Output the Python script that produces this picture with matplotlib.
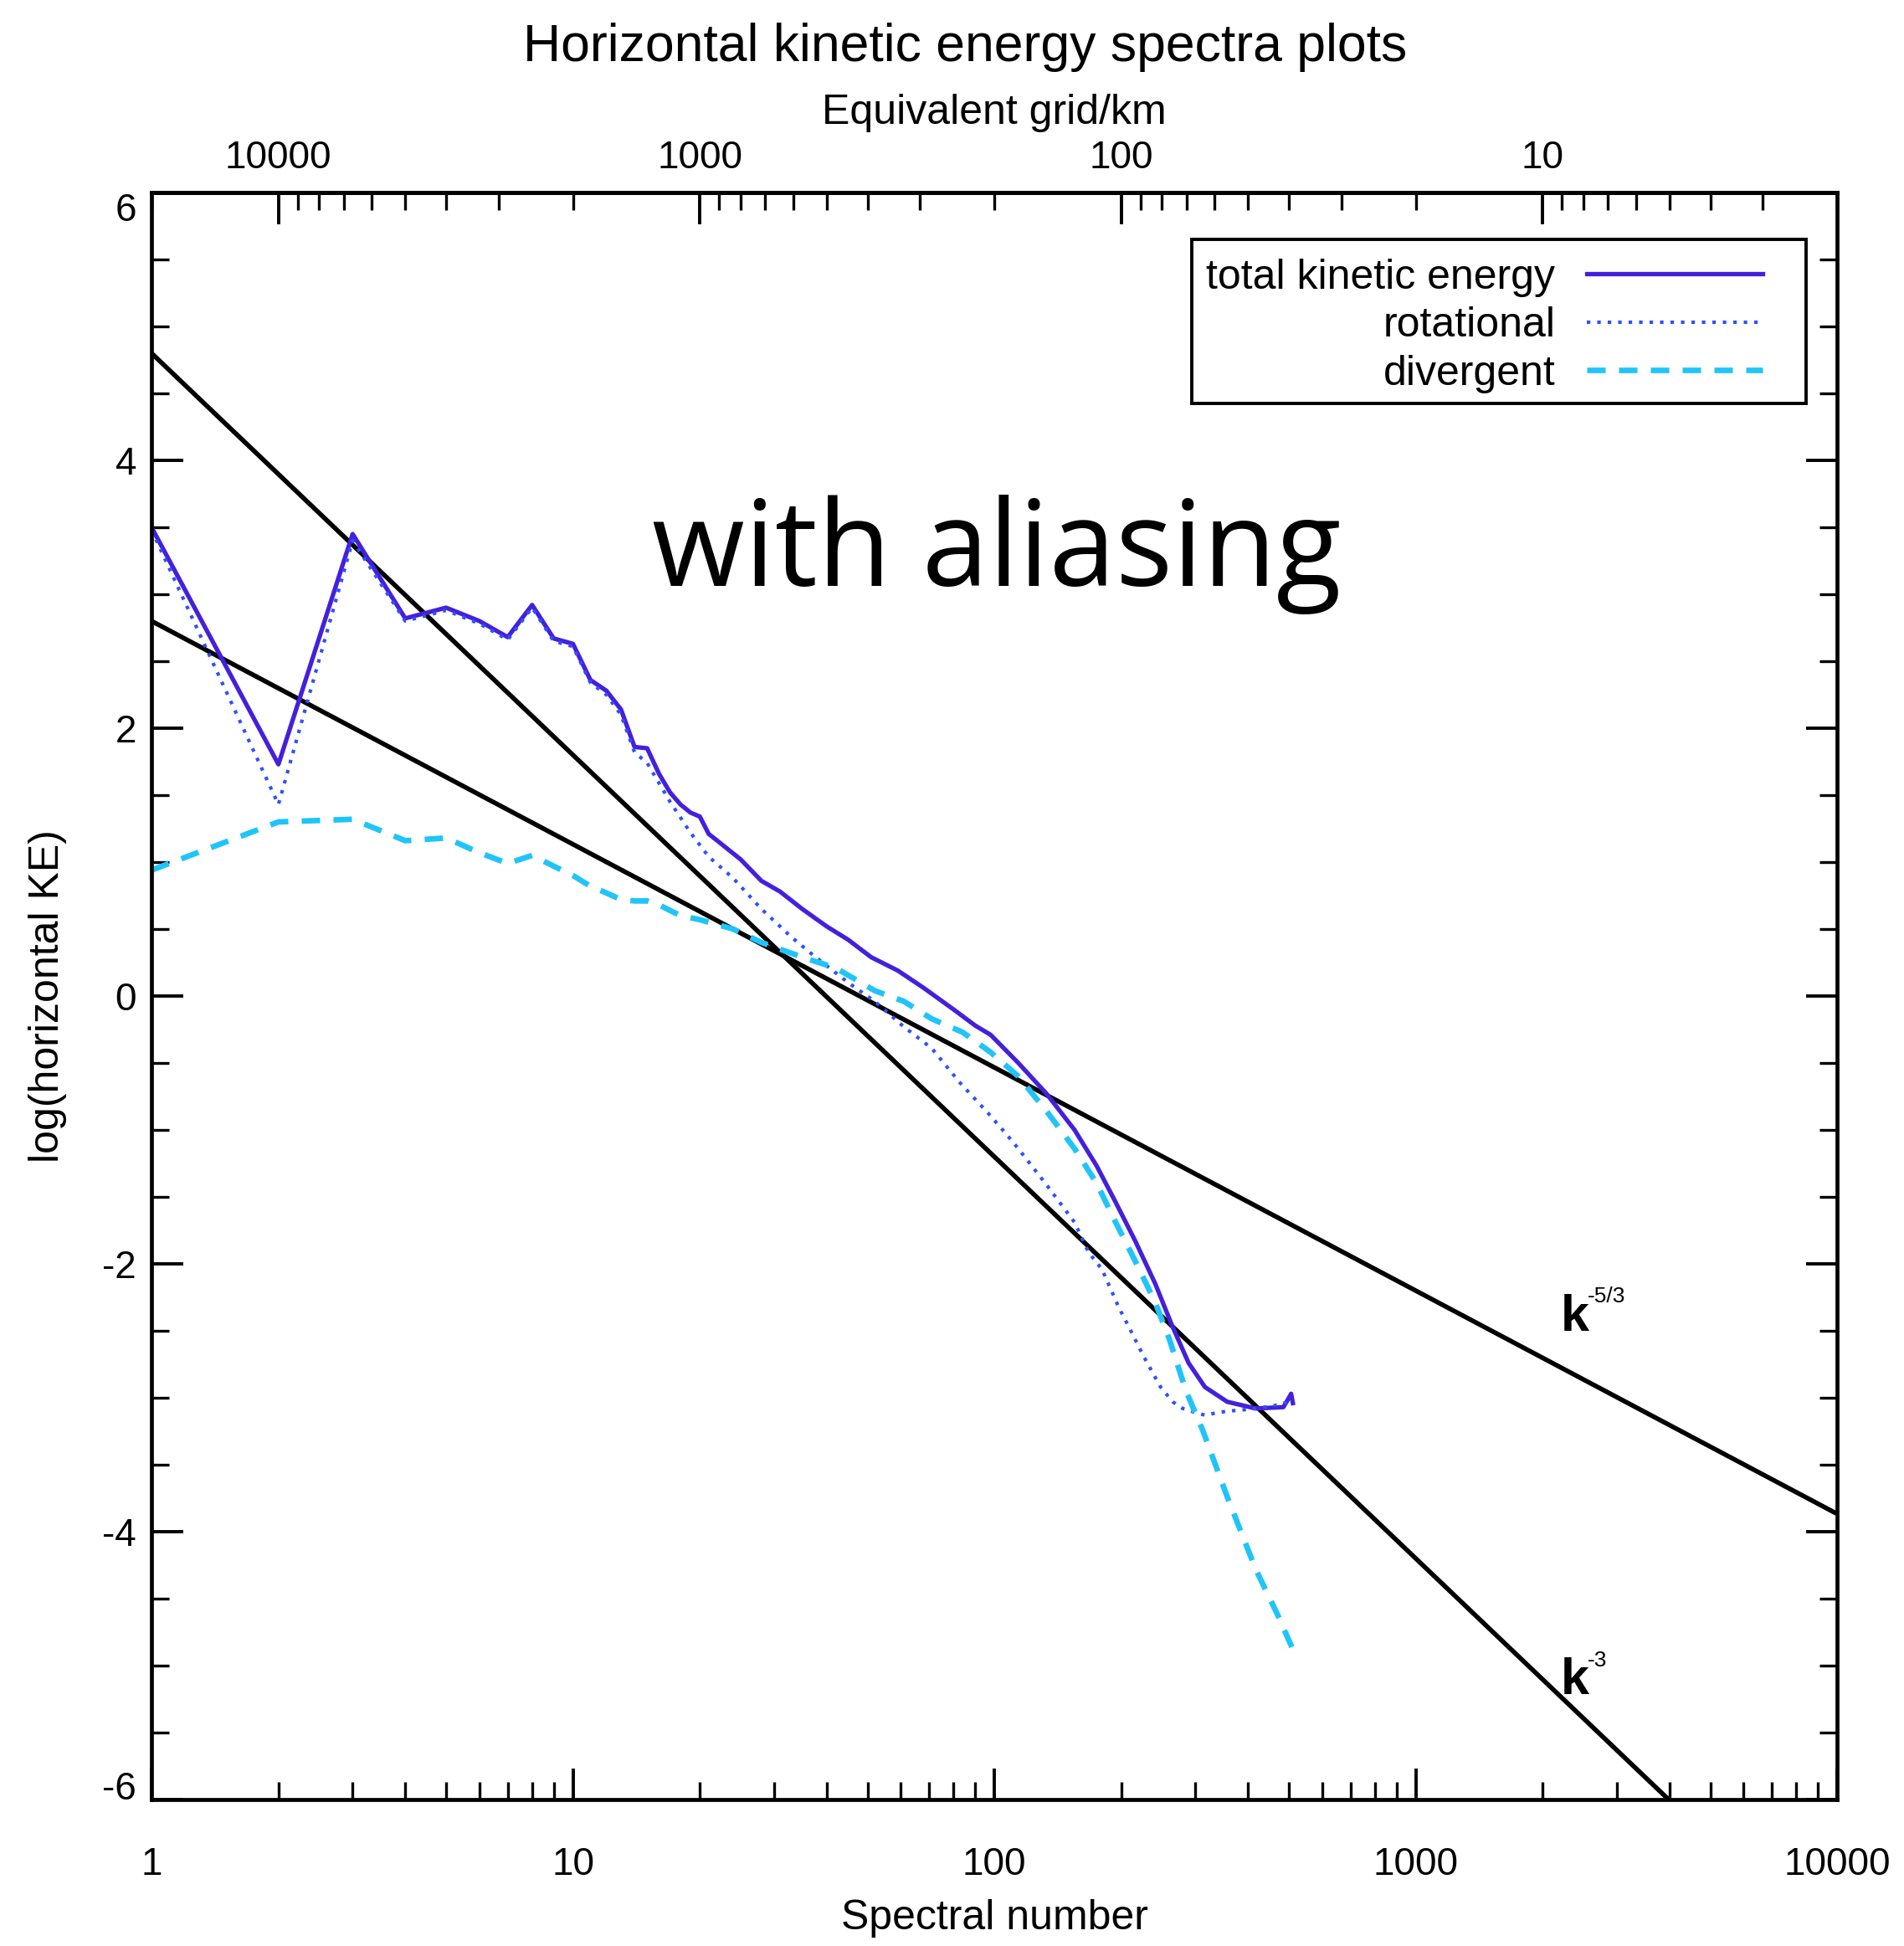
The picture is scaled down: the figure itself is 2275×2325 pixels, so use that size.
import numpy as np
import matplotlib
matplotlib.use('Agg')
import matplotlib.pyplot as plt
from matplotlib.patches import Rectangle
from matplotlib.ticker import FixedLocator, NullFormatter, FuncFormatter, LogLocator, MultipleLocator

plt.rcParams['font.family'] = ['Liberation Sans', 'DejaVu Sans']

# ---------------- data ----------------
k_total = [1, 2, 3, 4, 5, 6, 7, 8, 9, 10, 11, 12, 13, 14, 15, 16, 17, 18, 19, 20, 21, 22,
           25, 28, 31, 35, 40, 45, 51, 59, 68, 80, 90, 98, 114, 133, 155, 175, 194, 216,
           241, 264, 289, 316, 357, 417, 485, 500, 506, 511]
ke_total = [3.50, 1.73, 3.45, 2.82, 2.90, 2.80, 2.68, 2.92, 2.67, 2.63, 2.36, 2.28, 2.14, 1.86,
            1.85, 1.66, 1.52, 1.43, 1.37, 1.34, 1.21, 1.16, 1.02, 0.86, 0.78, 0.65, 0.52, 0.42,
            0.29, 0.19, 0.06, -0.10, -0.22, -0.29, -0.50, -0.73, -1.00, -1.27, -1.54, -1.83,
            -2.15, -2.46, -2.74, -2.92, -3.03, -3.08, -3.07, -3.00, -2.97, -3.04]

k_rot = [1, 2, 3, 4, 5, 6, 7, 8, 9, 10, 11, 12, 13, 14, 15, 17, 19, 21, 24, 28, 33, 37, 45,
         52, 61, 71, 83, 97, 106, 114, 133, 155, 167, 180, 197, 210, 226, 248, 265, 280, 300,
         316, 340, 358, 390, 417, 460, 500, 511]
ke_rot = [3.48, 1.43, 3.40, 2.80, 2.88, 2.78, 2.66, 2.90, 2.65, 2.61, 2.34, 2.25, 2.10, 1.82,
          1.74, 1.45, 1.22, 1.04, 0.88, 0.65, 0.44, 0.31, 0.10, -0.04, -0.23, -0.39, -0.65,
          -0.88, -1.02, -1.14, -1.41, -1.69, -1.91, -2.04, -2.32, -2.49, -2.69, -2.92, -3.03,
          -3.08, -3.11, -3.13, -3.11, -3.10, -3.09, -3.08, -3.06, -3.03, -3.05]

k_div = [1, 2, 3, 4, 5, 6, 7, 8, 9, 10, 11, 12, 13, 14, 15, 16, 18, 20, 24, 28, 35, 42, 52,
         61, 71, 84, 98, 114, 133, 155, 175, 194, 216, 241, 260, 285, 312, 357, 417, 470, 511]
ke_div = [0.94, 1.30, 1.32, 1.16, 1.18, 1.07, 0.99, 1.05, 0.97, 0.90, 0.82, 0.77, 0.72, 0.71,
          0.71, 0.68, 0.60, 0.57, 0.50, 0.40, 0.29, 0.21, 0.04, -0.04, -0.17, -0.27, -0.42,
          -0.60, -0.86, -1.14, -1.40, -1.69, -1.98, -2.29, -2.56, -2.95, -3.24, -3.74, -4.28,
          -4.62, -4.88]

# reference power laws (endpoints)
ref_k = [1, 10000]
ref_k53 = [2.8, -3.867]
ref_k3 = [4.8, -7.2]

labels = ['total kinetic energy', 'rotational', 'divergent']
x_ticks = [1, 10, 100, 1000, 10000]
y_ticks = [-6, -4, -2, 0, 2, 4, 6]
top_ticks = [10000, 1000, 100, 10]

# ---------------- figure ----------------
fig = plt.figure(figsize=(22.75, 23.25), dpi=100)
ax = fig.add_axes([0.0796, 0.07527, 0.8853, 0.8258])
ax.set_xscale('log')

ax.plot(ref_k, ref_k53, color='black', lw=4.0, solid_capstyle='butt')
ax.plot(ref_k, ref_k3, color='black', lw=4.0, solid_capstyle='butt')
ax.plot(k_total, ke_total, color='#4420DC', lw=3.8, label=labels[0])
ax.plot(k_rot, ke_rot, color='#2C50FF', lw=3.0, linestyle=(0, (1, 2.0)), label=labels[1])
ax.plot(k_div, ke_div, color='#20C4F8', lw=4.8, linestyle=(0, (3.3, 2.4)), label=labels[2])

ax.set_xlim(1, 10000)
ax.set_ylim(-6, 6)

for s in ax.spines.values():
    s.set_linewidth(3.4)

ax.xaxis.set_major_locator(FixedLocator(x_ticks))
ax.xaxis.set_minor_locator(LogLocator(base=10, subs=range(2, 10), numticks=20))
ax.xaxis.set_major_formatter(FuncFormatter(lambda v, p: f'{v:g}'))
ax.xaxis.set_minor_formatter(NullFormatter())
ax.yaxis.set_major_locator(FixedLocator(y_ticks))
ax.yaxis.set_minor_locator(MultipleLocator(0.5))
ax.yaxis.set_major_formatter(FuncFormatter(lambda v, p: f'{v:g}'))

ax.tick_params(which='both', direction='in', top=False, right=True, bottom=True, left=True)
ax.tick_params(which='major', length=27, width=2.8, labelsize=33)
ax.tick_params(axis='x', which='major', pad=40)
ax.tick_params(axis='y', which='major', pad=13)
ax.tick_params(which='minor', length=15, width=2.4)

# end labels of y-axis shifted inward, as in the original
yt = ax.yaxis.get_major_ticks()
yt[0].label1.set_verticalalignment('baseline')
yt[-1].label1.set_verticalalignment('top')

# top axis: equivalent grid length
secax = ax.secondary_xaxis('top', functions=(lambda k: 20000.0 / np.asarray(k, float),
                                             lambda km: 20000.0 / np.asarray(km, float)))
secax.xaxis.set_major_locator(FixedLocator(top_ticks))
secax.xaxis.set_minor_locator(LogLocator(base=10, subs=range(2, 10), numticks=20))
secax.xaxis.set_major_formatter(FuncFormatter(lambda v, p: f'{v:g}'))
secax.xaxis.set_minor_formatter(NullFormatter())
secax.tick_params(which='both', direction='in')
secax.tick_params(which='major', length=27, width=2.8, labelsize=33, pad=14)
secax.tick_params(which='minor', length=15, width=2.4)
secax.spines['top'].set_linewidth(3.4)
secax.set_xlabel('Equivalent grid/km', fontsize=36)
secax.xaxis.set_label_coords(0.5, 1.0427, transform=ax.transAxes)

ax.set_xlabel('Spectral number', fontsize=36)
ax.xaxis.set_label_coords(0.5, -0.062)
ax.set_ylabel('log(horizontal KE)', fontsize=36)
ax.yaxis.set_label_coords(-0.05, 0.5)

fig.text(1153 / 2275, 1 - 56 / 2325, 'Horizontal kinetic energy spectra plots',
         fontsize=45, ha='center', va='center')

# legend: frame drawn as a box, entries right-aligned against their handles
ax.add_patch(Rectangle((0.6172, 0.8688), 0.3644, 0.1020, transform=ax.transAxes,
                       facecolor='white', edgecolor='black', lw=2.8, zorder=4))
leg = ax.legend(loc='upper right', bbox_to_anchor=(0.9558, 0.959), borderaxespad=0,
                markerfirst=False, fontsize=36, frameon=False,
                handlelength=4.2, handletextpad=0.76, labelspacing=0.23, borderpad=0)
leg.set_zorder(6)

# power-law labels
ax.text(2212, -2.50, 'k', fontsize=44, fontweight='bold', ha='left', va='baseline')
ax.text(2560, -2.17, '-5/3', fontsize=19, ha='left', va='top')
ax.text(2212, -5.21, 'k', fontsize=44, fontweight='bold', ha='left', va='baseline')
ax.text(2560, -4.89, '-3', fontsize=19, ha='left', va='top')

# overlay annotation
fig.text(1191 / 2275, 1 - 700 / 2325, 'with aliasing', fontsize=103,
         family=['Open Sans', 'DejaVu Sans'], ha='center', va='baseline')

fig.savefig('out.png', dpi=100)
